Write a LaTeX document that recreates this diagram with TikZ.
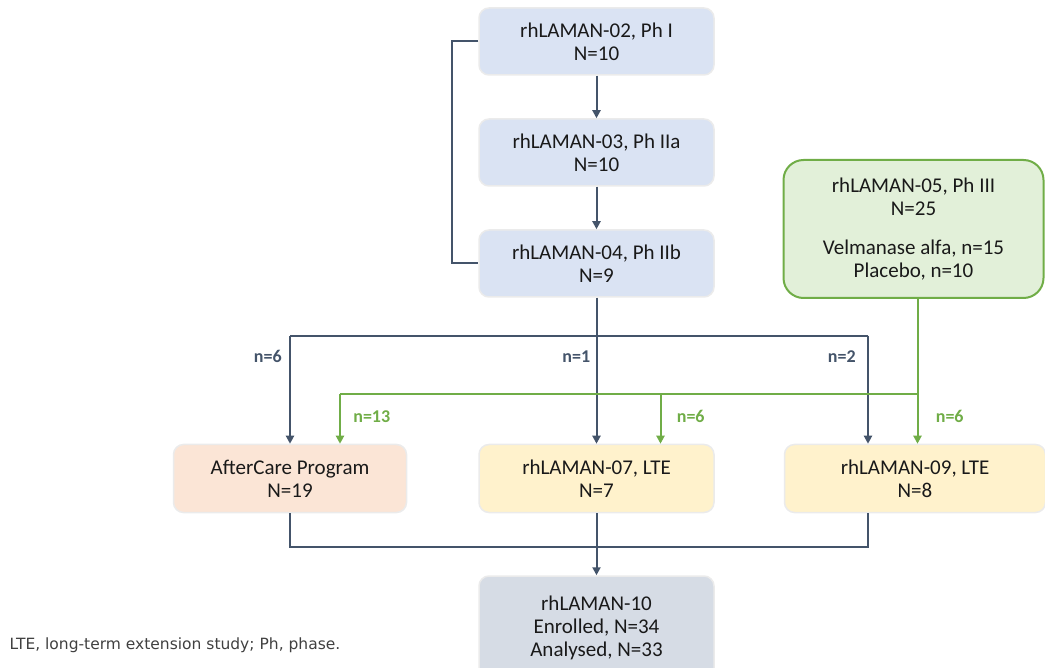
\documentclass[tikz,border=0pt]{standalone}
\usepackage{fontspec}
\setmainfont{Carlito}
\newfontfamily\notefont{DejaVu Sans}
\usetikzlibrary{arrows.meta, positioning}

\definecolor{boxblue}{HTML}{DAE3F3}
\definecolor{boxgreen}{HTML}{E2F0D9}
\definecolor{boxpeach}{HTML}{FBE5D6}
\definecolor{boxyellow}{HTML}{FFF2CC}
\definecolor{boxgray}{HTML}{D6DCE5}
\definecolor{linkblue}{HTML}{44546A}
\definecolor{linkgreen}{HTML}{70AD47}

\begin{document}
\begin{tikzpicture}[
      x=1pt, y=1pt,
      study/.style={rectangle, rounded corners=10pt, draw=black!8, line width=1.5pt, align=center,
        minimum width=235pt, minimum height=67pt, inner sep=2pt, text=black!90,
        font=\fontsize{21}{23}\selectfont},
      early/.style={study, fill=boxblue},
      pivotal/.style={study, fill=boxgreen, draw=linkgreen, line width=2pt, rounded corners=20pt,
        minimum width=260pt, minimum height=138pt},
      aftercare/.style={study, fill=boxpeach, minimum width=233pt, minimum height=68pt},
      extension/.style={study, fill=boxyellow, minimum height=68pt},
      pooled/.style={study, fill=boxgray, minimum height=104pt},
      link/.style={linkblue, line width=2pt},
      glink/.style={linkgreen, line width=2pt},
      arrow/.style={link, -{Triangle[length=8pt, width=8pt]}},
      garrow/.style={glink, -{Triangle[length=8pt, width=8pt]}},
      count/.style={font=\fontsize{18}{20}\selectfont\bfseries, text=linkblue},
      gcount/.style={count, text=linkgreen}
    ]
    \useasboundingbox (0,0) rectangle (1045,-668);

    \node[early] (l02) at (596.5,-41.5) {rhLAMAN-02, Ph I\\N=10};
    \node[early, below=42.5pt of l02] (l03) {rhLAMAN-03, Ph IIa\\N=10};
    \node[early, below=42.5pt of l03] (l04) {rhLAMAN-04, Ph IIb\\N=9};
    \node[pivotal] (l05) at (913.5,-229) {rhLAMAN-05, Ph III\\N=25\\[16pt]Velmanase alfa, n=15\\Placebo, n=10};

    \node[extension, below=146pt of l04] (l07) {rhLAMAN-07, LTE\\N=7};
    \node[aftercare, left=71pt of l07] (ac) {AfterCare Program\\N=19};
    \node[extension, right=69pt of l07, minimum width=261pt] (l09) {rhLAMAN-09, LTE\\N=8};
    \node[pooled, below=62pt of l07] (l10) {rhLAMAN-10\\Enrolled, N=34\\Analysed, N=33};

    \node[anchor=west, font=\notefont\fontsize{15.5}{17}\selectfont, text=black!75] (note) at (6,-645)
      {LTE, long-term extension study; Ph, phase.};

    \coordinate[below=38pt of l04] (bsplit);
    \coordinate[left=47pt of l09.north] (in09);
    \coordinate[left=47pt of l09.south] (out09);
    \coordinate[below=95pt of l05.south, xshift=4pt] (gsplit);
    \coordinate[right=50pt of ac.north] (gin-ac);
    \coordinate[right=64pt of l07.north] (gin07);
    \coordinate[below=34pt of ac] (join);

    \draw[arrow] (l02) -- (l03);
    \draw[arrow] (l03) -- (l04);
    \draw[link] (l02.west) -- ++(-26pt,0) |- (l04.west);

    \draw[link] (l04) -- (bsplit);
    \draw[link] (ac |- bsplit) -- (in09 |- bsplit);
    \draw[arrow] (ac |- bsplit) -- node[count, pos=0.19, left=4pt] {n=6} (ac);
    \draw[arrow] (bsplit) -- node[count, pos=0.19, left=2pt] {n=1} (l07);
    \draw[arrow] (in09 |- bsplit) -- node[count, pos=0.19, left=8pt] {n=2} (in09);

    \draw[glink] ([xshift=4pt]l05.south) -- (gsplit) -- (gin-ac |- gsplit);
    \draw[garrow] (gin-ac |- gsplit) -- node[gcount, pos=0.46, right=9pt] {n=13} (gin-ac);
    \draw[garrow] (gin07 |- gsplit) -- node[gcount, pos=0.46, right=12pt] {n=6} (gin07);
    \draw[garrow] (gsplit) -- node[gcount, pos=0.46, right=14pt] {n=6} (gsplit |- l09.north);

    \draw[link] (ac) |- (out09 |- join) -- (out09);
    \draw[arrow] (l07) -- (l10);
  \end{tikzpicture}
\end{document}
